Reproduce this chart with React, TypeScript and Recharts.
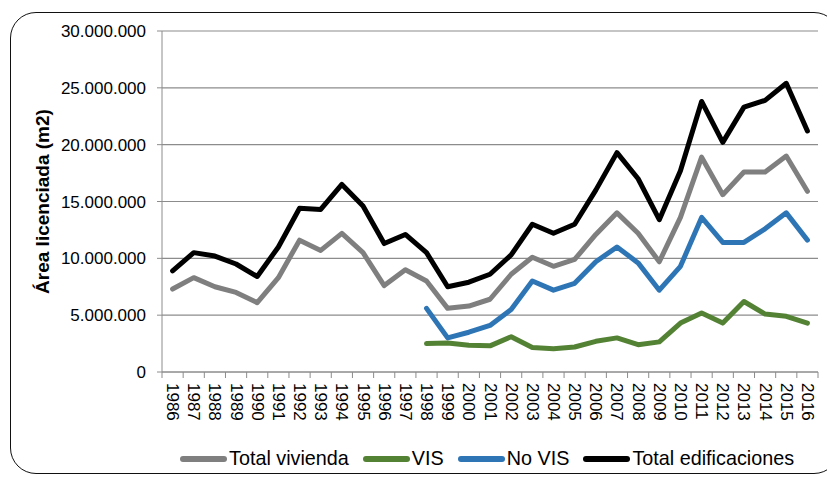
import React from "react";
import { LineChart, Line, XAxis, YAxis, CartesianGrid } from "recharts";

const years = [
    "1986", "1987", "1988", "1989", "1990", "1991", "1992", "1993", "1994", "1995",
    "1996", "1997", "1998", "1999", "2000", "2001", "2002", "2003", "2004", "2005",
    "2006", "2007", "2008", "2009", "2010", "2011", "2012", "2013", "2014", "2015", "2016",
];

const totalVivienda = [
    7300000, 8300000, 7500000, 7000000, 6100000, 8300000, 11600000, 10700000, 12200000, 10500000,
    7600000, 9000000, 8000000, 5600000, 5800000, 6400000, 8600000, 10100000, 9300000, 9900000,
    12100000, 14000000, 12200000, 9700000, 13600000, 18900000, 15600000, 17600000, 17600000, 19000000, 15900000,
];

const vis = [
    null, null, null, null, null, null, null, null, null, null,
    null, null, 2500000, 2550000, 2350000, 2300000, 3100000, 2150000, 2050000, 2200000,
    2700000, 3000000, 2400000, 2650000, 4300000, 5200000, 4300000, 6200000, 5100000, 4900000, 4300000,
];

const noVis = [
    null, null, null, null, null, null, null, null, null, null,
    null, null, 5600000, 3000000, 3500000, 4100000, 5500000, 8000000, 7200000, 7800000,
    9700000, 11000000, 9600000, 7200000, 9300000, 13600000, 11400000, 11400000, 12600000, 14000000, 11600000,
];

const totalEdificaciones = [
    8900000, 10500000, 10200000, 9500000, 8400000, 11000000, 14400000, 14300000, 16500000, 14600000,
    11300000, 12100000, 10500000, 7500000, 7900000, 8600000, 10300000, 13000000, 12200000, 13000000,
    16000000, 19300000, 17000000, 13400000, 17700000, 23800000, 20200000, 23300000, 23900000, 25400000, 21200000,
];

const yTicks = [0, 5000000, 10000000, 15000000, 20000000, 25000000, 30000000];

const series = [
    { key: "vivienda", name: "Total vivienda", color: "#7f7f7f" },
    { key: "vis", name: "VIS", color: "#548235" },
    { key: "novis", name: "No VIS", color: "#2e75b6" },
    { key: "edif", name: "Total edificaciones", color: "#000000" },
];

const data = years.map((y, i) => ({
    year: y,
    vivienda: totalVivienda[i],
    vis: vis[i],
    novis: noVis[i],
    edif: totalEdificaciones[i],
}));

const fmt = (v: number) => String(v).replace(/\B(?=(\d{3})+(?!\d))/g, ".");

const FONT = "'Liberation Sans', Arial, sans-serif";

const YearTick = (props: any) => {
    const { x, y, payload } = props;
    const half = payload && payload.offset ? payload.offset : 10.58;
    const last = payload.value === years[years.length - 1];
    return (
        <g>
            <line x1={x - half} x2={x - half} y1={y - 6} y2={y} stroke="#8c8c8c" />
            {last && <line x1={x + half} x2={x + half} y1={y - 6} y2={y} stroke="#8c8c8c" />}
            <text
                x={x}
                y={y + 5}
                transform={`rotate(90, ${x}, ${y + 5})`}
                textAnchor="start"
                dominantBaseline="central"
                fontSize={17}
                fontFamily={FONT}
                fill="#000"
            >
                {payload.value}
            </text>
        </g>
    );
};

const AxisTitle = (props: any) => {
    const { viewBox } = props;
    const cx = viewBox.x + 22;
    const cy = viewBox.y + viewBox.height / 2;
    return (
        <text
            x={cx}
            y={cy}
            transform={`rotate(-90, ${cx}, ${cy})`}
            textAnchor="middle"
            dominantBaseline="central"
            fontSize={19}
            fontWeight="bold"
            fontFamily={FONT}
            fill="#000"
        >
            Área licenciada (m2)
        </text>
    );
};

export default function App() {
    return (
        <div style={{ position: "absolute", left: 0, top: 0, width: 827, height: 477, overflow: "hidden", background: "#fff" }}>
            <div
                style={{
                    position: "absolute",
                    left: 10,
                    top: 12,
                    width: 830,
                    height: 462,
                    border: "1.6px solid #111",
                    borderRadius: 26,
                    boxSizing: "border-box",
                }}
            />
            <div style={{ position: "absolute", left: 0, top: 0 }}>
                <LineChart width={827} height={477} data={data} margin={{ top: 31, right: 9, left: 20, bottom: 45 }}>
                    <CartesianGrid vertical={false} stroke="#8c8c8c" strokeWidth={1.2} />
                    <XAxis
                        dataKey="year"
                        scale="band"
                        interval={0}
                        height={60}
                        tickSize={6}
                        tickMargin={0}
                        tickLine={false}
                        axisLine={{ stroke: "#8c8c8c" }}
                        tick={<YearTick />}
                    />
                    <YAxis
                        width={142}
                        domain={[0, 30000000]}
                        ticks={yTicks}
                        interval={0}
                        tickFormatter={fmt}
                        tickSize={5}
                        tickMargin={11}
                        axisLine={{ stroke: "#8c8c8c" }}
                        tickLine={{ stroke: "#8c8c8c" }}
                        tick={{ fontSize: 17, fontFamily: FONT, fill: "#000" }}
                        label={<AxisTitle />}
                    />
                    {series.map((s) => (
                        <Line
                            key={s.key}
                            type="linear"
                            dataKey={s.key}
                            name={s.name}
                            stroke={s.color}
                            strokeWidth={5}
                            strokeLinejoin="round"
                            strokeLinecap="round"
                            dot={false}
                            activeDot={false}
                            isAnimationActive={false}
                        />
                    ))}
                </LineChart>
            </div>
            <div
                style={{
                    position: "absolute",
                    left: 180,
                    top: 447,
                    display: "flex",
                    alignItems: "center",
                    fontFamily: FONT,
                    fontSize: 19.8,
                    color: "#000",
                    whiteSpace: "nowrap",
                }}
            >
                {series.map((s) => (
                    <div key={s.key} style={{ display: "flex", alignItems: "center", marginRight: 14 }}>
                        <div style={{ width: 47, height: 6, borderRadius: 3, background: s.color, marginRight: 2 }} />
                        <span>{s.name}</span>
                    </div>
                ))}
            </div>
        </div>
    );
}
